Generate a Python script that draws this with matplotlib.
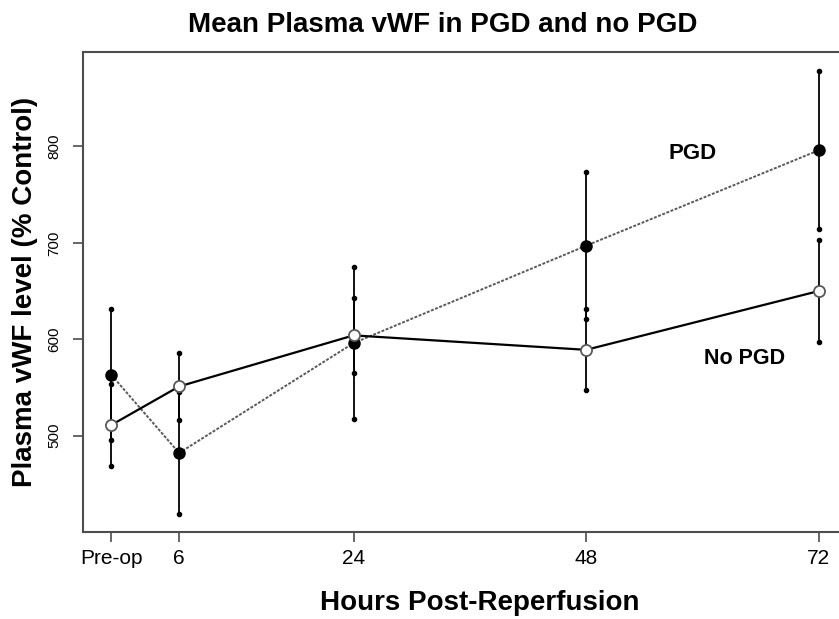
import numpy as np
import matplotlib.pyplot as plt

# time points (Pre-op plotted at -1 hours)
hours = [-1, 6, 24, 48, 72]
tick_labels = ["Pre-op", "6", "24", "48", "72"]

# mean plasma vWF (% control) and half-width of error bars
pgd_mean = [563, 482, 596, 697, 796]
pgd_err = [68, 63, 79, 76, 82]
nopgd_mean = [511, 551, 604, 589, 650]
nopgd_err = [43, 35, 39, 42, 53]

plt.rcParams['font.family'] = ['Liberation Sans', 'DejaVu Sans']

fig = plt.figure(figsize=(8.39, 6.19), dpi=100)
W, H = 839.0, 619.0
ax = fig.add_axes([83 / W, (H - 532) / H, (847 - 83) / W, (532 - 52) / H])

# error bars with small dots at the ends
for mean, err in ((pgd_mean, pgd_err), (nopgd_mean, nopgd_err)):
    m = np.array(mean)
    e = np.array(err)
    ax.vlines(hours, m - e, m + e, color="black", lw=1.3, zorder=2)
    ax.plot(hours, m - e, "o", color="black", ms=3, zorder=3)
    ax.plot(hours, m + e, "o", color="black", ms=3, zorder=3)

# PGD: thin grey dotted line, filled markers
ax.plot(hours, pgd_mean, color="0.35", lw=1.4, dashes=(1.5, 0.8),
        marker="o", ms=8, mfc="black", mec="black", zorder=4)
# No PGD: solid black line, open markers
ax.plot(hours, nopgd_mean, color="black", lw=1.6,
        marker="o", ms=8, mfc="white", mec="0.35", mew=1.3, zorder=4)

ax.text(59, 793, "PGD", fontsize=16, fontweight="bold", ha="center", va="center")
ax.text(64.3, 580, "No PGD", fontsize=15.5, fontweight="bold", ha="center", va="center")

ax.set_xlim(-3.92, 74.92)
ax.set_ylim(400, 898)
ax.set_xticks(hours)
ax.set_xticklabels(tick_labels, fontsize=15)
ax.set_yticks([500, 600, 700, 800])
ax.set_yticklabels(["500", "600", "700", "800"], fontsize=11, rotation=90, va="center")
ax.tick_params(direction="out", length=7.5, width=1.2, color="0.3")
ax.tick_params(axis="y", pad=8)
ax.tick_params(axis="x", pad=5)
for s in ax.spines.values():
    s.set_linewidth(1.5)
    s.set_color("0.3")

ax.set_xlabel("Hours Post-Reperfusion", fontsize=20, fontweight="bold")
ax.xaxis.set_label_coords((480 - 83) / 764.0, -(603 - 532) / 480.0)
ax.xaxis.label.set_va("center")
ax.set_ylabel("Plasma vWF level (% Control)", fontsize=20, fontweight="bold", labelpad=7)
fig.text(443 / W, 1 - 25 / H, "Mean Plasma vWF in PGD and no PGD", fontsize=20,
         fontweight="bold", ha="center", va="center")

fig.savefig("out.png", dpi=100)
